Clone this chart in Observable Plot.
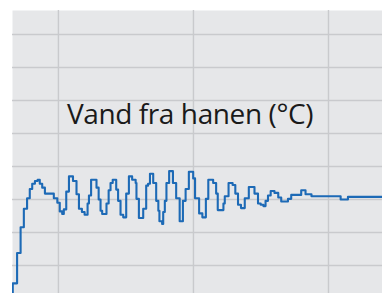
<!DOCTYPE html>
<html>
<head>
<meta charset="utf-8">
<script src="https://cdn.jsdelivr.net/npm/d3@7"></script>
<script src="https://cdn.jsdelivr.net/npm/@observablehq/plot@0.6"></script>
<style>
  html, body { margin: 0; padding: 0; background: #fff; }
  #chart svg { display: block; }
</style>
</head>
<body>
<div id="chart"></div>
<script>
const title = "Vand fra hanen (°C)";

// time (s) at which each step starts
const times = [0, 0.1, 1.7, 3.0, 4.2, 5.4, 6.4, 7.3, 8.3, 9.3, 10.1, 11.0, 12.0, 15.3, 16.6, 17.5, 18.4, 19.0, 19.9, 20.9,
  22.4, 23.7, 24.6, 25.7, 26.7, 27.8, 28.3, 29.1, 31.1, 31.9, 32.6, 33.2, 34.8, 35.6, 36.3, 37.1, 38.4, 39.1, 40.0, 41.0,
  42.1, 43.1, 44.3, 45.6, 45.9, 46.8, 48.4, 49.5, 50.2, 50.9, 52.1, 53.2, 54.0, 54.4, 55.4, 55.8, 56.4, 57.0, 58.0, 59.4,
  60.6, 61.9, 63.1, 64.1, 65.3, 66.9, 67.6, 69.1, 70.3, 71.6, 72.5, 74.3, 75.4, 76.0, 78.1, 78.6, 80.0, 81.5, 82.5, 83.5,
  84.6, 86.0, 87.5, 89.6, 90.9, 91.9, 92.9, 93.7, 94.6, 95.6, 97.0, 98.4, 99.5, 102.0, 103.2, 106.9, 108.5, 110.7, 121.5, 124.2,
  137.0];

// water temperature (°C) of each step
const temps = [4.0, 7.3, 11.9, 15.8, 18.6, 20.2, 21.6, 22.4, 22.8, 23.0, 22.4, 21.8, 20.9, 20.2, 19.5, 18.2, 17.8, 18.5, 21.2, 23.5,
  22.8, 20.8, 18.6, 18.1, 17.7, 19.4, 20.6, 23.0, 21.8, 20.0, 18.3, 17.8, 19.4, 21.4, 22.5, 23.0, 21.5, 19.8, 17.7, 17.3,
  20.9, 23.5, 23.0, 22.5, 20.1, 17.2, 18.6, 22.1, 22.4, 23.9, 22.5, 19.8, 18.3, 16.7, 16.3, 18.1, 19.8, 22.5, 24.3, 22.5,
  20.2, 16.7, 19.8, 21.6, 24.2, 23.2, 20.2, 17.9, 17.3, 20.1, 23.0, 22.5, 20.9, 18.4, 19.4, 20.5, 22.5, 22.2, 20.9, 19.2,
  18.7, 20.2, 21.9, 20.9, 19.4, 19.2, 19.0, 19.8, 20.6, 21.3, 21.0, 20.3, 19.7, 20.1, 20.7, 21.4, 20.8, 20.5, 20.0, 20.4,
  20.4];

const xGrid = [17, 67, 117];
const yGrid = [10, 15, 20, 25, 30, 35, 40, 45];

const data = times.map((t, i) => ({t, v: temps[i]}));

const chart = Plot.plot({
  width: 382,
  height: 293,
  marginLeft: 12,
  marginRight: 0,
  marginTop: 10,
  marginBottom: 0,
  x: {domain: [0, 137], axis: null},
  y: {domain: [5.76, 48.64], axis: null},
  style: {background: "#ffffff"},
  marks: [
    Plot.frame({fill: "#e6e7e9", stroke: null}),
    Plot.gridY(yGrid, {stroke: "#c9cacd", strokeOpacity: 1, strokeWidth: 1.4}),
    Plot.gridX(xGrid, {stroke: "#c9cacd", strokeOpacity: 1, strokeWidth: 1.4}),
    Plot.line(data, {x: "t", y: "v", curve: "step-after", stroke: "#1d6ab6", strokeWidth: 2.1, clip: true}),
    Plot.text([title], {
      frameAnchor: "top", dx: -7.5, dy: 113, lineAnchor: "bottom",
      fontSize: 28, fontFamily: "Open Sans", fill: "#1a1a1a",
      style: {letterSpacing: "-0.4px"}
    })
  ]
});
chart.querySelectorAll("text").forEach(t => t.style.letterSpacing = "-0.4px");
document.getElementById("chart").appendChild(chart);
</script>
</body>
</html>
